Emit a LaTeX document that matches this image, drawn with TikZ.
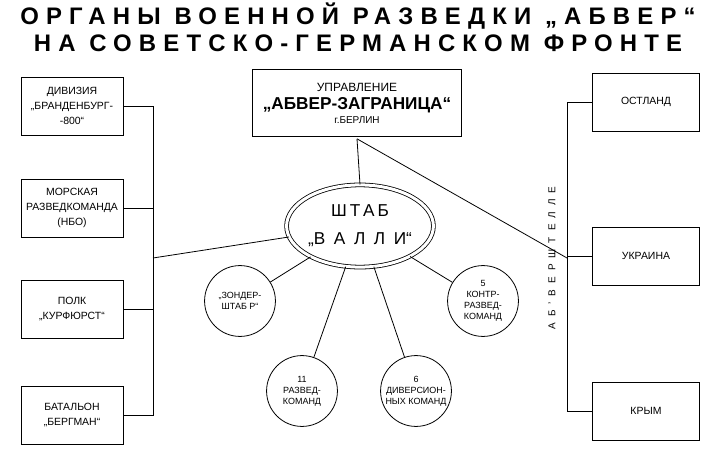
\documentclass[tikz,border=0pt]{standalone}
\usepackage{fontspec}
\setmainfont{Liberation Sans}
\newfontfamily\spaced[LetterSpace=30]{Liberation Sans}
\newfontfamily\wide[LetterSpace=60]{Liberation Sans}
\usetikzlibrary{shapes.geometric}
\tikzset{
  unit/.style={draw,thick,minimum width=3.6cm,minimum height=2.05cm,align=center,font=\fontsize{10.5}{15}\selectfont},
  sub/.style={draw,thick,circle,minimum size=2.5cm,align=center,font=\small,inner sep=0pt},
}
\begin{document}
\begin{tikzpicture}[x=0.03528cm,y=-0.03528cm]
\useasboundingbox (0,0) rectangle (723,470);
% title
\node (t1) at (358,16) {\fontsize{24}{26}\selectfont\bfseries\spaced ОРГАНЫ ВОЕННОЙ РАЗВЕДКИ „АБВЕР“};
\node (t2) at (358,43) {\fontsize{24}{26}\selectfont\bfseries\spaced НА СОВЕТСКО-ГЕРМАНСКОМ ФРОНТЕ};
% head office
\node[draw,thick,double,double distance=2.5pt,minimum width=7.5cm,minimum height=2.5cm,align=center,inner sep=1pt] (abw) at (357,103)
  {\large УПРАВЛЕНИЕ\\[5pt]\LARGE\bfseries „АБВЕР-ЗАГРАНИЦА“\\[2pt]\normalsize г.БЕРЛИН};
\node[draw,thick,double,double distance=3pt,ellipse,minimum width=4.9cm,minimum height=2.9cm,align=center,font=\LARGE,inner sep=0pt] (walli) at (360,226)
  {Ш\,Т\,А\,Б\\[6pt]„В\enspace А\enspace Л\enspace Л\enspace И“};
% circles
\node[sub] (sonder) at (240,301) {„ЗОНДЕР-\\ШТАБ Р“};
\node[sub] (raz) at (302,391) {11\\РАЗВЕД-\\КОМАНД};
\node[sub] (div) at (416,391) {6\\ДИВЕРСИОН-\\НЫХ КОМАНД};
\node[sub] (kontr) at (483,301) {5\\КОНТР-\\РАЗВЕД-\\КОМАНД};
% left units
\node[unit] (brand) at (72,106) {ДИВИЗИЯ\\„БРАНДЕНБУРГ-\\-800“};
\node[unit] (nbo) at (72,208) {МОРСКАЯ\\РАЗВЕДКОМАНДА\\(НБО)};
\node[unit] (kurf) at (72,309) {ПОЛК\\„КУРФЮРСТ“};
\node[unit] (berg) at (72,415) {БАТАЛЬОН\\„БЕРГМАН“};
% right units
\node[unit,minimum width=3.8cm] (ost) at (646,102) {ОСТЛАНД};
\node[unit,minimum width=3.8cm] (ukr) at (646,256) {УКРАИНА};
\node[unit,minimum width=3.8cm] (krym) at (646,411) {КРЫМ};
\node[rotate=90] (stelle) at (552,258) {\wide АБ’ВЕРШТЕЛЛЕ};
% connectors
\coordinate (lb) at (153,258);
\coordinate (rb) at (567,258);
\draw[thick] (brand.east) -| (lb) (nbo.east) -| (lb) (kurf.east) -| (lb) (berg.east) -| (lb);
\draw[thick] (ost.west) -| (rb) (ukr.west) -| (rb) (krym.west) -| (rb);
\draw[thick] (lb) -- (walli);
\draw[thick] (abw.south) -- (walli.north);
\draw[thick] (abw.south) -- (rb);
\foreach \c in {sonder,raz,div,kontr} \draw[thick] (walli) -- (\c);
\end{tikzpicture}
\end{document}
